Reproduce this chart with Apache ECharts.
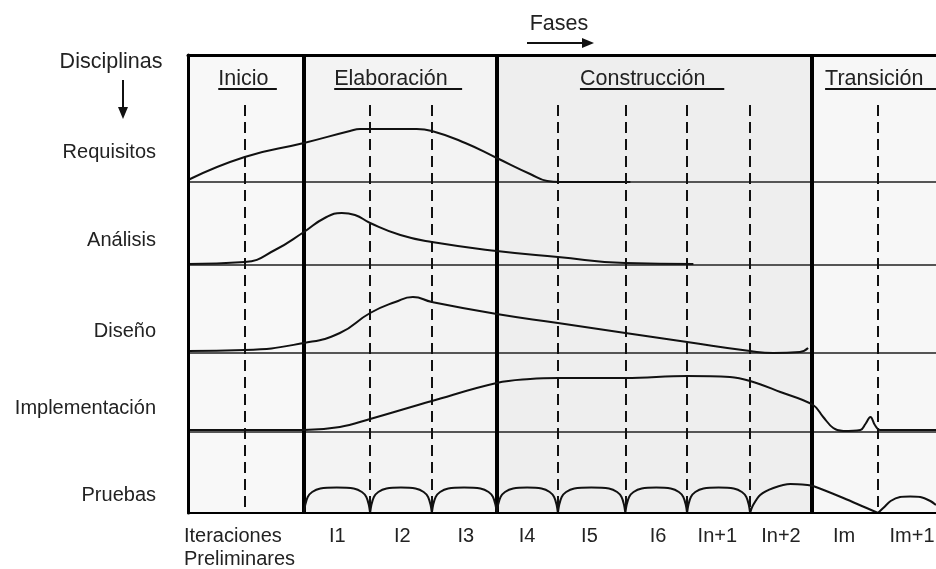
<!DOCTYPE html>
<html><head><meta charset="utf-8">
<script src="https://cdn.jsdelivr.net/npm/echarts@6/dist/echarts.min.js"></script>
<style>html,body{margin:0;padding:0;background:#fff}#c{width:936px;height:569px}</style>
</head><body><div id="c"></div>
<script>
// ---- data (x in iteration units, y in effort units; rows stacked) ----
const phaseNames = ['Inicio', 'Elaboración', 'Construcción', 'Transición'];
const phaseBounds = [0, 1.84, 4.9, 9.9, 11.87];
const phaseFill = ['#f8f8f8', '#f3f3f3', '#eeeeee', '#f7f7f7'];
const phaseLabelX = [0.48, 2.32, 6.22, 10.11];
const phaseUnderlineEnd = [1.41, 4.35, 8.51, 11.87];
const phaseLabelY = 43.4;
const phaseUnderlineY = 42.4;

const disciplines = ['Requisitos', 'Análisis', 'Diseño', 'Implementación', 'Pruebas'];
const disciplineLabelY = [36.1, 27.3, 18.2, 10.5, 1.8];
const rowSeparators = [33.1, 24.8, 16.0, 8.1];

const iterationDividers = [0.9, 2.89, 3.87, 5.87, 6.94, 7.92, 8.92, 10.94];
const dividerTop = 40.8, dividerBottom = 0.6;
const iterationLabels = ['Iteraciones\nPreliminares', 'I1', 'I2', 'I3', 'I4', 'I5', 'I6', 'In+1', 'In+2', 'Im', 'Im+1'];
const iterationLabelX = [0.84, 2.37, 3.40, 4.41, 5.38, 6.37, 7.46, 8.40, 9.41, 10.41, 11.49];

const requisitos = [[0,33.3],[0.90,35.6],[1.84,37.0],[2.57,38.2],[2.73,38.4],[3.63,38.4],[3.87,38.2],[4.40,37.0],[4.90,35.5],[5.43,33.9],[5.70,33.2],[5.90,33.1],[7.02,33.1]];
const analisis = [[0,24.9],[0.90,25.1],[1.38,26.3],[1.84,28.1],[2.17,29.5],[2.44,30.0],[2.65,29.8],[2.89,29.0],[3.37,27.8],[3.87,27.1],[4.90,26.2],[5.87,25.6],[6.94,25.0],[8.02,24.9]];
const diseno = [[0,16.2],[0.90,16.3],[1.84,17.0],[2.41,18.0],[2.89,20.0],[3.29,21.1],[3.57,21.6],[3.87,21.1],[4.90,19.9],[5.87,19.0],[6.94,18.0],[7.92,17.1],[8.92,16.2],[9.29,16.0],[9.71,16.1],[9.84,16.5]];
const implementacion = [[0,8.3],[1.84,8.3],[2.41,8.6],[2.89,9.4],[3.87,11.2],[4.90,13.0],[5.43,13.4],[5.87,13.5],[6.94,13.5],[7.92,13.7],[8.60,13.6],[8.92,13.2],[9.40,12.1],[9.92,10.8],[10.08,9.6],[10.24,8.5],[10.40,8.2],[10.67,8.3],[10.75,8.9],[10.83,9.6],[10.90,8.8],[10.98,8.3],[11.87,8.3]];
const pruebas = [
  [1.84,0],[1.86,0.8],[1.90,1.6],[1.97,2.1],[2.10,2.45],[2.36,2.55],[2.63,2.45],[2.76,2.1],[2.83,1.6],[2.87,0.8],[2.89,0],[2.89,null],
  [2.89,0],[2.91,0.8],[2.95,1.6],[3.02,2.1],[3.15,2.45],[3.38,2.55],[3.61,2.45],[3.74,2.1],[3.81,1.6],[3.85,0.8],[3.87,0],[3.87,null],
  [3.87,0],[3.89,0.8],[3.93,1.6],[4.00,2.1],[4.13,2.45],[4.38,2.55],[4.64,2.45],[4.77,2.1],[4.84,1.6],[4.88,0.8],[4.90,0],[4.90,null],
  [4.90,0],[4.92,0.8],[4.96,1.6],[5.03,2.1],[5.16,2.45],[5.38,2.55],[5.61,2.45],[5.74,2.1],[5.81,1.6],[5.85,0.8],[5.87,0],[5.87,null],
  [5.87,0],[5.89,0.8],[5.93,1.6],[6.00,2.1],[6.13,2.45],[6.40,2.55],[6.68,2.45],[6.81,2.1],[6.88,1.6],[6.92,0.8],[6.94,0],[6.94,null],
  [6.94,0],[6.96,0.8],[7.00,1.6],[7.07,2.1],[7.20,2.45],[7.43,2.55],[7.66,2.45],[7.79,2.1],[7.86,1.6],[7.90,0.8],[7.92,0],[7.92,null],
  [7.92,0],[7.94,0.8],[7.98,1.6],[8.05,2.1],[8.18,2.45],[8.42,2.55],[8.66,2.45],[8.79,2.1],[8.86,1.6],[8.90,0.8],[8.92,0],[8.92,null],
  [8.92,0],[8.96,0.7],[9.08,1.8],[9.29,2.5],[9.56,2.9],[9.83,2.8],[9.92,2.7],[10.40,1.5],[10.95,0],[10.95,null],
  [10.95,0],[11.05,0.6],[11.15,1.2],[11.30,1.6],[11.46,1.65],[11.62,1.6],[11.78,1.2],[11.87,0.8]
];
const curves = [requisitos, analisis, diseno, implementacion, pruebas];
const curveSmooth = [0.5, 0.5, 0.5, 0.4, 0.3];

const FONT = '"Liberation Sans", Arial, Helvetica, sans-serif';
const TXT = '#222';
const X_MAX = phaseBounds[phaseBounds.length - 1];
const Y_MAX = 45.8;

const chart = echarts.init(document.getElementById('c'));

const markAreaData = phaseNames.map((n, i) => [
  { xAxis: phaseBounds[i], itemStyle: { color: phaseFill[i] } },
  { xAxis: phaseBounds[i + 1] }
]);
const markLineData = []
  .concat(rowSeparators.map(v => ({ yAxis: v, lineStyle: { color: '#555', width: 2, type: 'solid' } })))
  .concat(iterationDividers.map(v => [
    { coord: [v, dividerTop], lineStyle: { color: '#111', width: 2, type: [11, 6] } },
    { coord: [v, dividerBottom] }
  ]))
  .concat(phaseBounds.slice(1, -1).map(v => ({ xAxis: v, lineStyle: { color: '#000', width: 4, type: 'solid' } })));

const series = [{
  type: 'line', name: 'frame', data: [], z: 1, silent: true,
  markArea: { silent: true, data: markAreaData },
  markLine: { silent: true, symbol: ['none', 'none'], label: { show: false }, data: markLineData, animation: false }
}].concat(curves.map((d, i) => ({
  type: 'line', name: disciplines[i], data: d, showSymbol: false, smooth: curveSmooth[i],
  connectNulls: false, z: 5, silent: true,
  lineStyle: { color: '#111', width: 2 }
})));

chart.setOption({
  animation: false,
  backgroundColor: '#fff',
  grid: { left: 188, right: 0, top: 55, bottom: 56, containLabel: false, outerBoundsMode: 'none' },
  xAxis: [{
    type: 'value', min: 0, max: X_MAX, position: 'bottom', z: 10,
    axisLine: { show: true, onZero: false, lineStyle: { color: '#000', width: 2 } },
    axisTick: { show: false }, splitLine: { show: false },
    axisLabel: {
      customValues: iterationLabelX, margin: 12, verticalAlign: 'top',
      color: TXT, fontSize: 20, fontFamily: FONT, lineHeight: 23,
      formatter: (v) => {
        const i = iterationLabelX.findIndex(x => Math.abs(x - v) < 1e-6);
        const t = i >= 0 ? iterationLabels[i] : '';
        return t.indexOf('\n') >= 0 ? t.split('\n').map(s => '{p|' + s + '}').join('\n') : t;
      },
      rich: { p: { width: 114, align: 'left', fontSize: 20, fontFamily: FONT, color: TXT, lineHeight: 23 } }
    }
  }, {
    type: 'value', min: 0, max: X_MAX, position: 'top', z: 10,
    axisLine: { show: true, onZero: false, lineStyle: { color: '#000', width: 3 } },
    axisTick: { show: false }, splitLine: { show: false }, axisLabel: { show: false }
  }],
  yAxis: [{
    type: 'value', min: 0, max: Y_MAX, z: 10,
    axisLine: { show: true, onZero: false, lineStyle: { color: '#000', width: 3 } },
    axisTick: { show: false }, splitLine: { show: false },
    axisLabel: {
      customValues: disciplineLabelY, margin: 32, align: 'right', verticalAlign: 'middle',
      color: TXT, fontSize: 20, fontFamily: FONT,
      formatter: (v) => {
        const i = disciplineLabelY.findIndex(y => Math.abs(y - v) < 1e-6);
        return i >= 0 ? disciplines[i] : '';
      }
    }
  }],
  series: series
});

// Phase headers (underlined) placed through the chart's own coordinate system
const px = (x, y) => chart.convertToPixel({ xAxisIndex: 0, yAxisIndex: 0 }, [x, y]);
const graphics = [];
phaseNames.forEach((n, i) => {
  const p = px(phaseLabelX[i], phaseLabelY);
  graphics.push({ type: 'text', z: 20, style: { text: n, x: p[0], y: p[1], align: 'left', verticalAlign: 'middle', fill: TXT, fontSize: 21.5, fontFamily: FONT } });
  const a = px(phaseLabelX[i], phaseUnderlineY), b = px(phaseUnderlineEnd[i], phaseUnderlineY);
  graphics.push({ type: 'line', z: 20, shape: { x1: a[0], y1: a[1], x2: b[0], y2: b[1] }, style: { stroke: '#111', lineWidth: 2 } });
});
// "Fases" and "Disciplinas" annotations with arrows
graphics.push(
  { type: 'text', z: 20, style: { text: 'Fases', x: 559, y: 24, align: 'center', verticalAlign: 'middle', fill: TXT, fontSize: 21.5, fontFamily: FONT } },
  { type: 'line', z: 20, shape: { x1: 527, y1: 43, x2: 585, y2: 43 }, style: { stroke: '#111', lineWidth: 2 } },
  { type: 'polygon', z: 20, shape: { points: [[582, 38], [594, 43], [582, 48]] }, style: { fill: '#111' } },
  { type: 'text', z: 20, style: { text: 'Disciplinas', x: 111, y: 62, align: 'center', verticalAlign: 'middle', fill: TXT, fontSize: 21.5, fontFamily: FONT } },
  { type: 'line', z: 20, shape: { x1: 123, y1: 80, x2: 123, y2: 110 }, style: { stroke: '#111', lineWidth: 2 } },
  { type: 'polygon', z: 20, shape: { points: [[118, 107], [123, 119], [128, 107]] }, style: { fill: '#111' } }
);
chart.setOption({ graphic: graphics });
</script>
</body></html>
